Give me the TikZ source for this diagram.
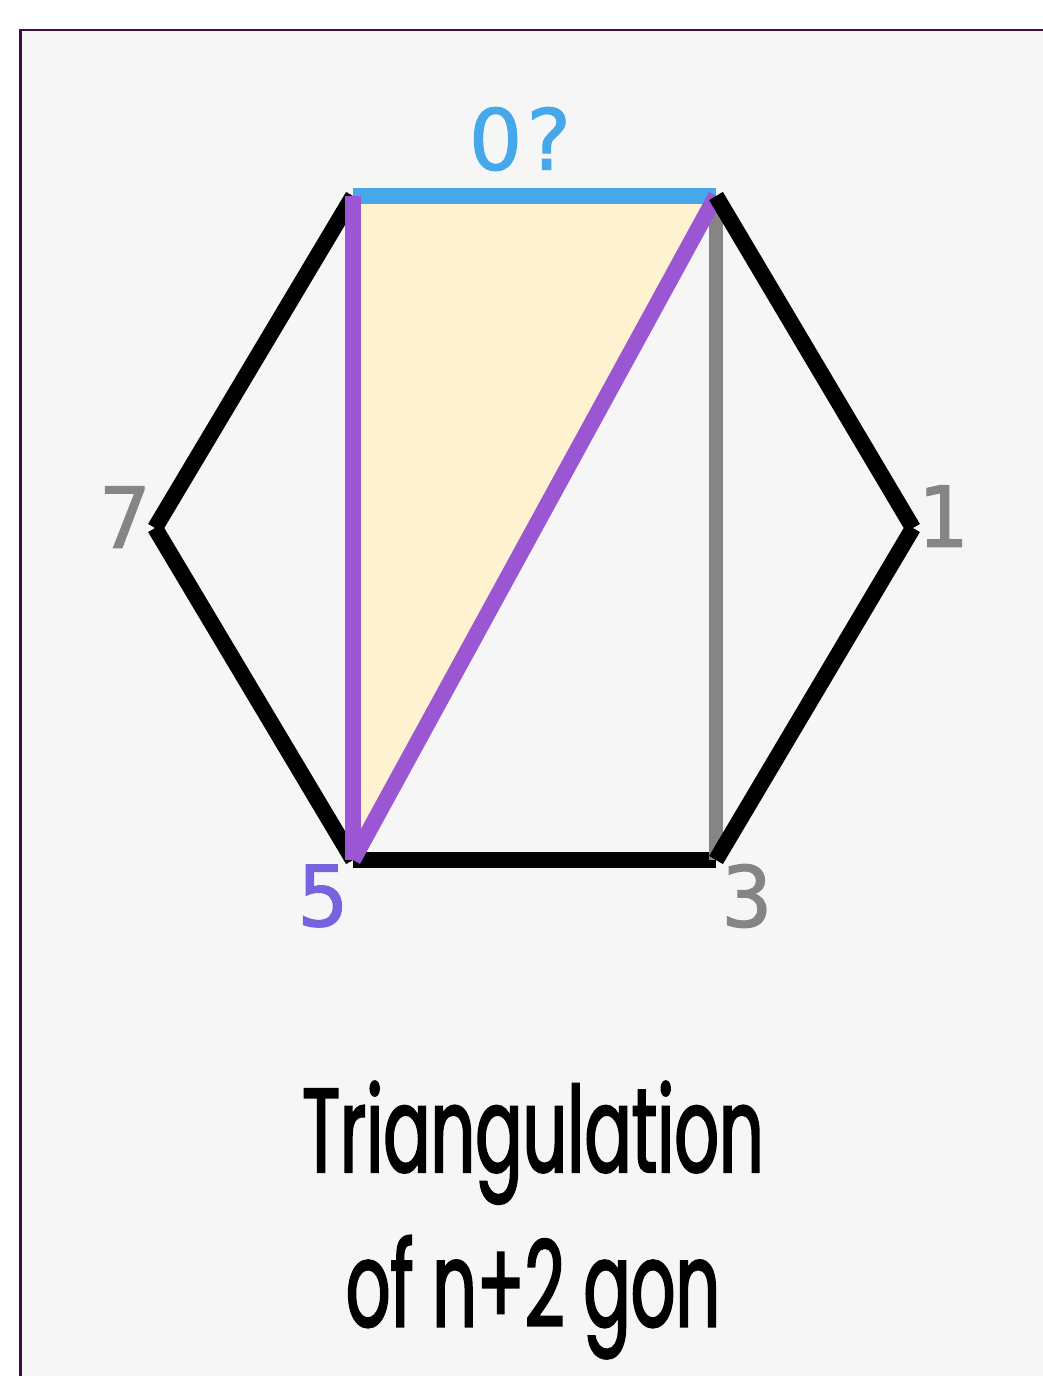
\documentclass[tikz,border=0pt]{standalone}
\usepackage{fontspec}
\usepackage{xcolor}
\usetikzlibrary{positioning}
\newfontfamily\digitfont[FakeBold=1.2]{DejaVu Sans Mono}
\newfontfamily\zerofont[FakeBold=1.2]{DejaVu Sans}
\newfontfamily\titlefont[FakeStretch=0.585, FakeBold=1.6]{Poppins}
\definecolor{frameline}{HTML}{3E0E42}
\definecolor{panelbg}{HTML}{F6F6F6}
\definecolor{tribg}{HTML}{FFF2D0}
\definecolor{topblue}{HTML}{46A7EB}
\definecolor{diagpurple}{HTML}{9A56D3}
\definecolor{labpurple}{HTML}{7862E0}
\definecolor{diaggray}{HTML}{858585}

\begin{document}
\begin{tikzpicture}[x=0.02cm, y=-0.02cm,
    side/.style={line width=0.32cm, black},
    chord/.style={line width=0.32cm, diagpurple},
    grayside/.style={line width=0.28cm, diaggray},
    toparc/.style={line width=0.32cm, topblue},
    digit/.style={inner sep=0pt, font=\digitfont\fontsize{48}{48}\selectfont},
    caption/.style={inner sep=0pt, align=center,
      font=\titlefont\fontsize{68}{88}\selectfont}
  ]
  \useasboundingbox (0,0) rectangle (1043,1376);
  % --- Panel ---
  \fill[white] (0,0) rectangle (1043,1376);
  \draw[frameline, fill=panelbg, line width=0.05cm] (20.5,30) rectangle (1060,1400);

  % --- Vertices of the hexagon ---
  \coordinate (tl) at (353,196);
  \coordinate (tr) at (716,196);
  \coordinate (v1) at (913,528);
  \coordinate (v3) at (716,860);
  \coordinate (v5) at (353,860);
  \coordinate (v7) at (155,528);

  % --- Triangle and edges ---
  \fill[tribg] (tl) -- (tr) -- (v5) -- cycle;
  \draw[toparc] (tl) -- (tr);
  \draw[side] (v5) -- (v3);
  \draw[side] (tl) -- (v7);
  \draw[side] (v7) -- (v5);
  \draw[grayside] (tr) -- (v3);
  \draw[chord] (tl) -- (v5);
  \draw[chord] (tr) -- (v5);
  \draw[side] (tr) -- (v1);
  \draw[side] (v1) -- (v3);

  % --- Labels ---
  \node[digit, topblue] (lbl0) at (521,139) {{\zerofont 0}?};
  \node[digit, diaggray] (lbl7) at (125,517) {7};
  \node[digit, diaggray] (lbl1) at (942,516) {1};
  \node[digit, labpurple] (lbl5) at (323,896) {5};
  \node[digit, diaggray] (lbl3) at (747,896) {3};

  \node[caption] (title) at (533,1220) {Triangulation\\of n+2 gon};
\end{tikzpicture}
\end{document}
